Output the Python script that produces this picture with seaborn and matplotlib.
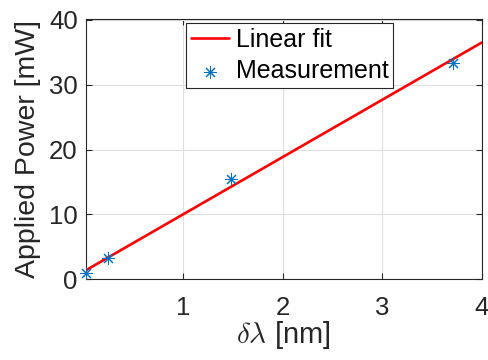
import numpy as np
import pandas as pd
import matplotlib
matplotlib.use("Agg")
import matplotlib.pyplot as plt
import seaborn as sns

meas_dl = [0.022, 0.243, 1.476, 3.717]
meas_power = [0.9, 3.3, 15.4, 33.3]

# linear fit endpoints
fit_dl = [0.022, 4.0]
fit_power = [1.4, 36.5]

sns.set_theme(style="whitegrid")
plt.rcParams['font.family'] = ['Liberation Sans', 'DejaVu Sans']
plt.rcParams['mathtext.fontset'] = 'cm'

dark = '#262626'
blue = '#0072BD'

fig = plt.figure(figsize=(4.88, 3.6), dpi=100)
ax = fig.add_axes([0.1762, 0.2242, 0.8105, 0.7244])
ax.set_facecolor('white')

fit_df = pd.DataFrame({'dl': fit_dl, 'p': fit_power})
meas_df = pd.DataFrame({'dl': meas_dl, 'p': meas_power})

sns.lineplot(data=fit_df, x='dl', y='p', color='red', linewidth=1.9,
             label='Linear fit', ax=ax)
sns.scatterplot(data=meas_df, x='dl', y='p', marker=(8, 2, 0), s=75,
                color=blue, edgecolor=blue, linewidth=0.75,
                label='Measurement', ax=ax, zorder=3, clip_on=False)

ax.set_xlim(0.022, 4.0)
ax.set_ylim(0, 40.23)
ax.set_xticks([1, 2, 3, 4])
ax.set_yticks([0, 10, 20, 30, 40])

ax.grid(True, color='#dfdfdf', linewidth=0.8)
for s in ax.spines.values():
    s.set_visible(True)
    s.set_color(dark)
    s.set_linewidth(0.8)

ax.tick_params(axis='both', direction='in', length=4, width=0.8, color=dark,
               labelcolor=dark, labelsize=18.5, top=True, right=True,
               bottom=True, left=True)
ax.tick_params(axis='x', pad=12)
ax.tick_params(axis='y', pad=6)

ax.set_xlabel(r'$\delta\lambda$ [nm]', fontsize=21, color=dark, labelpad=-1)
ax.set_ylabel('Applied Power [mW]', fontsize=20.5, color=dark, labelpad=6)

leg = ax.legend(loc='upper right', bbox_to_anchor=(0.777, 0.984),
                borderaxespad=0, fontsize=18, frameon=True, fancybox=False,
                handlelength=1.55, handletextpad=0.25, labelspacing=0.3,
                borderpad=0.2)
leg.get_frame().set_edgecolor(dark)
leg.get_frame().set_linewidth(0.8)
leg.get_frame().set_alpha(1)
for t in leg.get_texts():
    t.set_color('black')

fig.savefig('out.png', dpi=100)
